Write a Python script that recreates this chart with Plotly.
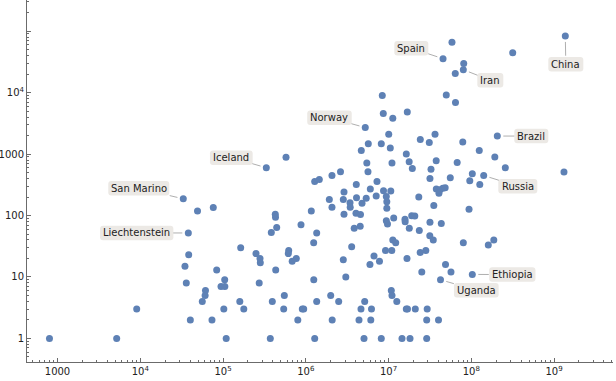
import math
import plotly.graph_objects as go

# ---- data: labelled countries (population, confirmed cases) ----
label_names = ["Spain", "Iran", "China", "Norway", "Brazil", "Russia", "Iceland",
               "San Marino", "Liechtenstein", "Ethiopia", "Uganda"]
label_pop = [45600000, 80200000, 1370000000, 5240000, 206500000, 141400000, 333700,
             33100, 38100, 103000000, 42500000]
label_cases = [35700, 23570, 83600, 2700, 1963, 447, 600, 187, 52, 11, 9]

# ---- data: other countries ----
other_pop = [
    800, 5190, 9060, 49200, 76300, 38500, 34700, 36000, 40300, 83900,
    61400, 60800, 56200, 94600, 105200, 104800, 102300, 73600, 109300, 163600,
    159600, 178400, 250500, 280000, 282400, 273800, 383500, 428600, 430900, 445700,
    433500, 394300, 541400, 372900, 622300, 615500, 685700, 768800, 876200, 801700,
    908400, 944800, 550800, 577300, 1167000, 1283000, 1458000, 2075000, 2630000, 1356000,
    1247000, 1250000, 1356000, 1283000, 1927000, 2075000, 2843000, 3427000, 3446000, 2899000,
    4105000, 4080000, 4785000, 5377000, 2899000, 4047000, 4587000, 3850000, 4550000, 3590000,
    2843000, 3048000, 2002000, 2500000, 2087000, 5158000, 4651000, 4400000, 5058000, 5700000,
    4690000, 5470000, 5650000, 6030000, 5970000, 6680000, 7780000, 6230000, 6110000, 7260000,
    7100000, 8410000, 8650000, 11270000, 16870000, 10060000, 8180000, 10510000, 11020000, 16410000,
    17780000, 19400000, 24230000, 31100000, 36500000, 37700000, 32630000, 31700000, 8700000, 10660000,
    9410000, 9540000, 9540000, 23230000, 35270000, 37820000, 41900000, 45300000, 48400000, 55800000,
    9410000, 9720000, 11560000, 15820000, 15900000, 19070000, 20780000, 17840000, 23560000, 31700000,
    43450000, 11270000, 12220000, 9200000, 10960000, 16730000, 24160000, 28240000, 31550000, 34770000,
    48860000, 56900000, 25260000, 10810000, 11020000, 12600000, 16410000, 16960000, 21080000, 29350000,
    28940000, 40200000, 8180000, 14560000, 18200000, 28940000, 58500000, 49900000, 64500000, 64100000,
    67600000, 40700000, 81100000, 317000000, 79000000, 125000000, 192700000, 258000000, 1320000000, 103000000,
    96000000, 126800000, 94000000, 80200000, 160700000, 187300000,
]
other_cases = [
    1, 1, 3, 118, 135, 23, 15, 8, 2, 13,
    6, 5, 4, 7, 7, 9, 3, 2, 1, 30,
    4, 3, 24, 20, 17, 8, 53, 105, 94, 64,
    13, 4, 3, 1, 27, 24, 18, 20, 71, 2,
    3, 3, 5, 891, 118, 357, 385, 447, 514, 52,
    36, 9, 4, 1, 182, 136, 182, 161, 136, 241,
    194, 319, 159, 190, 105, 109, 104, 62, 67, 31,
    19, 10, 5, 4, 2, 4, 3, 2, 1, 1477,
    1140, 714, 516, 269, 16, 22, 18, 3, 2, 359,
    207, 8935, 4558, 3837, 4855, 2108, 1477, 1253, 714, 1000,
    752, 581, 1720, 1538, 2108, 781, 568, 400, 254, 250,
    203, 168, 131, 200, 145, 269, 262, 277, 282, 410,
    82, 73, 91, 87, 79, 99, 98, 62, 57, 78,
    74, 40, 36, 27, 27, 20, 25, 27, 47, 40,
    16, 12, 12, 6, 5, 4, 3, 3, 3, 3,
    2, 2, 1, 1, 1, 1, 66200, 9100, 6874, 20370,
    728, 230, 29840, 44700, 1578, 1140, 894, 597, 510, 476,
    369, 319, 126, 36, 33, 40,
]

# ---- tick labels ----
x_tick_vals = [1e3, 1e4, 1e5, 1e6, 1e7, 1e8, 1e9]
x_tick_text = ["1000", "10<sup>4</sup>", "10<sup>5</sup>", "10<sup>6</sup>",
               "10<sup>7</sup>", "10<sup>8</sup>", "10<sup>9</sup>"]
y_tick_vals = [1, 10, 100, 1000, 1e4, 1e5]
y_tick_text = ["1", "10", "100", "1000", "10<sup>4</sup>", ""]

# ---- callout placement (pixel offsets of box centre from point, box width) ----
callout = {
    "Spain": (-31.7, -10.4, 34),
    "Iran": (27, 10.5, 26),
    "China": (0.5, 28.3, 35),
    "Norway": (-35.8, -9.9, 44.5),
    "Brazil": (34, 0, 34),
    "Russia": (34.1, 10.6, 39),
    "Iceland": (-35, -10, 42.7),
    "San Marino": (-44.5, -10.5, 61),
    "Liechtenstein": (-51.6, 0, 73.3),
    "Ethiopia": (40, 0.2, 46.3),
    "Uganda": (35.8, 10.4, 44.7),
}

FONT = "DejaVu Sans"
MARK = "rgb(94,129,181)"
AXIS = "#6b6b6b"

fig = go.Figure()
fig.add_trace(go.Scatter(
    x=label_pop + other_pop, y=label_cases + other_cases, mode="markers",
    marker=dict(size=7, color=MARK, line=dict(width=0)),
    showlegend=False, hoverinfo="skip",
))

shapes = []
annotations = []
BOX_H = 14.5
R = 3
for name, p, c in zip(label_names, label_pop, label_cases):
    ax, ay, w = callout[name]
    cx, cy = ax, -ay
    l, r = cx - w / 2, cx + w / 2
    b, t = cy - BOX_H / 2, cy + BOX_H / 2
    path = (f"M{l+R},{b} L{r-R},{b} Q{r},{b} {r},{b+R} L{r},{t-R} Q{r},{t} {r-R},{t} "
            f"L{l+R},{t} Q{l},{t} {l},{t-R} L{l},{b+R} Q{l},{b} {l+R},{b} Z")
    shapes.append(dict(type="path", xref="x", yref="y", xsizemode="pixel", ysizemode="pixel",
                       xanchor=p, yanchor=c, path=path, fillcolor="rgb(236,233,229)",
                       line=dict(width=0), layer="above"))
    annotations.append(dict(
        x=math.log10(p), y=math.log10(c), xref="x", yref="y", text=name,
        showarrow=True, arrowhead=0, arrowwidth=1, arrowcolor="rgb(175,175,175)",
        ax=ax, ay=ay, standoff=6, startstandoff=1.5, borderpad=1,
        font=dict(family=FONT, size=10, color="#222"),
    ))

fig.update_layout(
    width=616, height=381,
    margin=dict(l=27, r=3, t=0, b=19),
    paper_bgcolor="white", plot_bgcolor="white",
    shapes=shapes, annotations=annotations,
    font=dict(family=FONT, size=10, color="#222"),
    xaxis=dict(
        type="log", range=[2.6314, 9.713], showgrid=False, zeroline=False,
        showline=True, linecolor=AXIS, linewidth=1,
        tickmode="array", tickvals=x_tick_vals, ticktext=x_tick_text,
        ticks="inside", ticklen=4, tickcolor=AXIS, tickwidth=1,
        tickfont=dict(family=FONT, size=10, color="#222"),
        minor=dict(ticks="inside", ticklen=2, dtick="D1", tickcolor=AXIS, showgrid=False),
    ),
    yaxis=dict(
        type="log", range=[-0.384, 5.507], showgrid=False, zeroline=False,
        showline=True, linecolor=AXIS, linewidth=1,
        tickmode="array", tickvals=y_tick_vals, ticktext=y_tick_text,
        ticks="inside", ticklen=4, tickcolor=AXIS, tickwidth=1,
        tickfont=dict(family=FONT, size=10, color="#222"),
        minor=dict(ticks="inside", ticklen=2, dtick="D1", tickcolor=AXIS, showgrid=False),
    ),
)

fig.write_html("out.html", post_script="document.body.style.margin='0px';",
               config={"displayModeBar": False})
